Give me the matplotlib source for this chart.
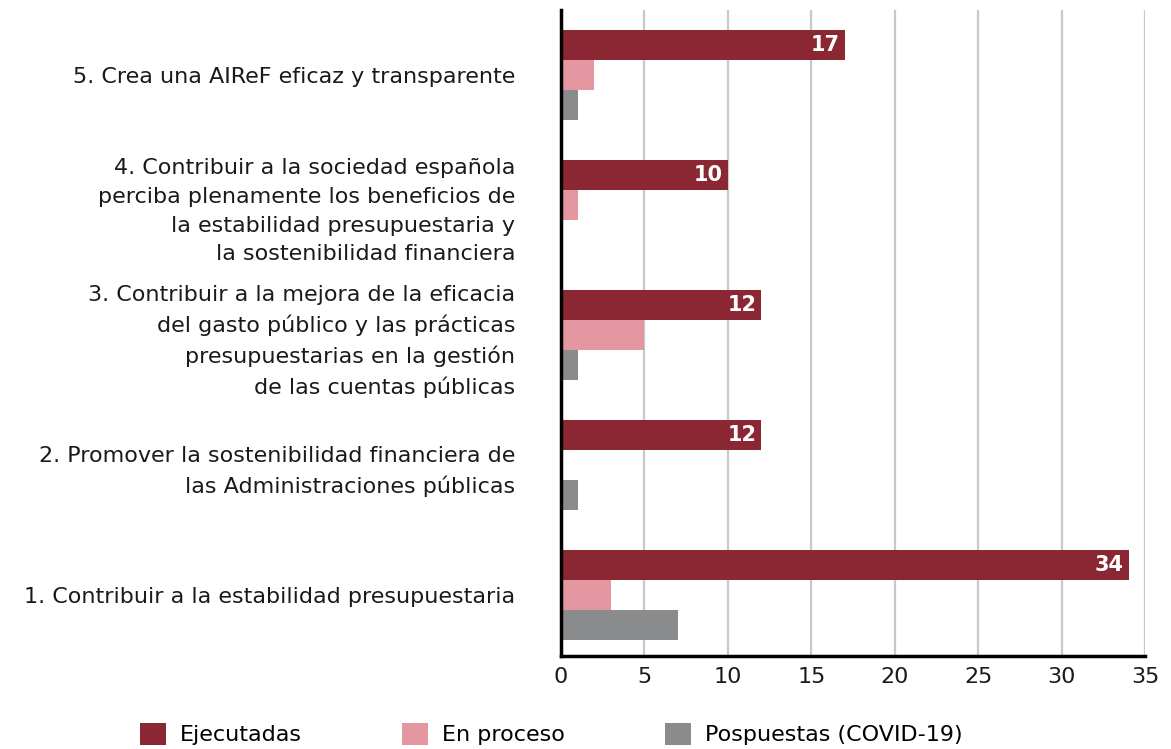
import matplotlib.pyplot as plt
import numpy as np

plt.rcParams['font.family'] = ['DejaVu Sans']

categories = [
    '1. Contribuir a la estabilidad presupuestaria',
    '2. Promover la sostenibilidad financiera de\nlas Administraciones públicas',
    '3. Contribuir a la mejora de la eficacia\ndel gasto público y las prácticas\npresupuestarias en la gestión\nde las cuentas públicas',
    '4. Contribuir a la sociedad española\nperciba plenamente los beneficios de\nla estabilidad presupuestaria y\nla sostenibilidad financiera',
    '5. Crea una AIReF eficaz y transparente',
]
ejecutadas = [34, 12, 12, 10, 17]
en_proceso = [3, 0, 5, 1, 2]
pospuestas = [7, 1, 1, 0, 1]
series_names = ['Ejecutadas', 'En proceso', 'Pospuestas (COVID-19)']
colors = ['#8B2633', '#E497A0', '#8A8B8D']

fig = plt.figure(figsize=(11.71, 7.49), dpi=100)
ax = fig.add_axes([0.479, 0.124, 0.499, 0.863])

y = np.arange(len(categories))
h = 0.23
b1 = ax.barh(y + h, ejecutadas, height=h, color=colors[0], label=series_names[0], zorder=3)
ax.barh(y, en_proceso, height=h, color=colors[1], label=series_names[1], zorder=3)
ax.barh(y - h, pospuestas, height=h, color=colors[2], label=series_names[2], zorder=3)

# value labels inside the end of the red bars
for rect, v in zip(b1, ejecutadas):
    ax.text(rect.get_width() - 0.3, rect.get_y() + rect.get_height() / 2, str(v),
            ha='right', va='center', color='white', fontsize=15, fontweight='bold', zorder=4)

ax.set_xlim(0, 35)
ax.set_ylim(-0.47, 4.5)
ax.set_xticks(range(0, 36, 5))
ax.set_yticks(y)
ax.set_yticklabels(categories, fontsize=16, ha='right', multialignment='right',
                   color='#1a1a1a', linespacing=1.55)
ax.tick_params(axis='y', length=0, pad=33)
ax.tick_params(axis='x', length=0, pad=8, labelsize=16, labelcolor='#1a1a1a')

ax.grid(axis='x', color='#c8c8c8', linewidth=1.6, zorder=0)
ax.set_axisbelow(True)
for s in ['top', 'right']:
    ax.spines[s].set_visible(False)
ax.spines['left'].set_linewidth(2.5)
ax.spines['bottom'].set_linewidth(2.5)
ax.spines['left'].set_zorder(5)

fig.legend(loc='lower center', bbox_to_anchor=(0.471, -0.022), ncol=3, frameon=False,
           fontsize=16, handlelength=1.15, handleheight=1.15, handletextpad=0.65,
           columnspacing=4.5)

fig.savefig('out.png', dpi=100)
